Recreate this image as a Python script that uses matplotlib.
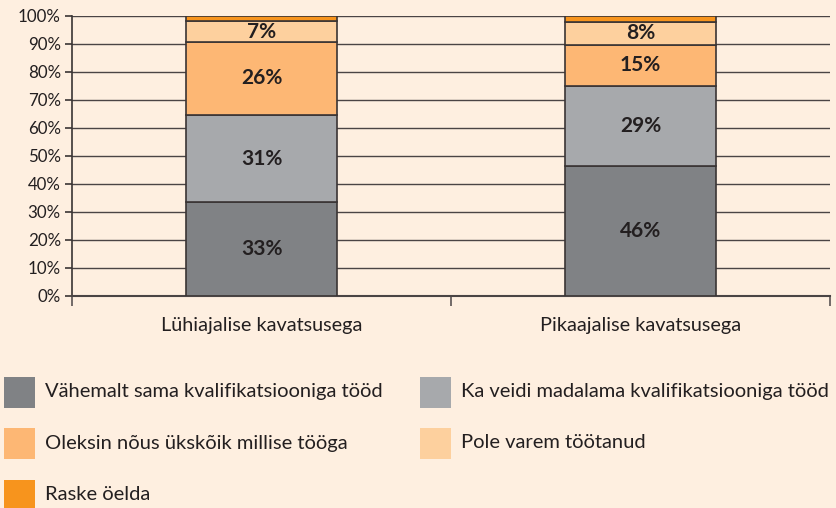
import matplotlib
matplotlib.use("Agg")
import matplotlib.pyplot as plt
from matplotlib.patches import Rectangle
import numpy as np

plt.rcParams['font.family'] = ['Lato', 'DejaVu Sans']

categories = ["Lühiajalise kavatsusega", "Pikaajalise kavatsusega"]
series = [
    "Vähemalt sama kvalifikatsiooniga tööd",
    "Ka veidi madalama kvalifikatsiooniga tööd",
    "Oleksin nõus ükskõik millise tööga",
    "Pole varem töötanud",
    "Raske öelda",
]
values = [
    [33.4, 46.4],
    [31.4, 28.6],
    [25.9, 14.8],
    [7.4, 8.0],
    [1.9, 2.2],
]
labels = [
    ["33%", "46%"],
    ["31%", "29%"],
    ["26%", "15%"],
    ["7%", "8%"],
    ["", ""],
]
colors = ["#808285", "#a7a9ac", "#fdb774", "#fdd09e", "#f7941d"]
bg = "#feefe0"
edge = "#3a3434"

fig = plt.figure(figsize=(8.37, 5.08), dpi=100, facecolor=bg)
ax = fig.add_axes([72 / 837, 1 - 296 / 508, (830 - 72) / 837, (296 - 16) / 508])
ax.set_facecolor(bg)

x = np.arange(len(categories))
bottom = np.zeros(len(categories))
for vals, labs, col in zip(values, labels, colors):
    vals = np.array(vals)
    ax.bar(x, vals, 0.4, bottom=bottom, color=col, edgecolor=edge,
           linewidth=1.2, zorder=3)
    for xi, b, v, t in zip(x, bottom, vals, labs):
        if t:
            ax.text(xi, b + v / 2, t, ha='center', va='center',
                    fontsize=15, fontweight='bold', color='#231f20', zorder=4)
    bottom += vals

ax.set_xlim(-0.5, 1.5)
ax.set_ylim(0, 100)
ax.set_yticks(np.arange(0, 101, 10))
ax.set_yticklabels([f"{v}%" for v in range(0, 101, 10)], fontsize=12.2, color='#231f20')
ax.yaxis.grid(True, color='#4a4444', linewidth=1, zorder=0)
ax.set_xticks([-0.5, 0.5, 1.5])
ax.set_xticklabels([])
ax.set_xticks(x, minor=True)
ax.set_xticklabels(categories, minor=True, fontsize=14.3, color='#231f20')
ax.tick_params(axis='x', which='minor', length=0, pad=15)
ax.tick_params(axis='x', which='major', length=7, width=1.2, color='#5a5454')
ax.tick_params(axis='y', length=5, width=1.2, color='#3a3434', pad=3)
for s in ['top', 'right']:
    ax.spines[s].set_visible(False)
ax.spines['left'].set_color('#3a3434')
ax.spines['bottom'].set_color('#4a4444')
ax.spines['left'].set_linewidth(1.2)
ax.spines['bottom'].set_linewidth(1.5)

# legend drawn by hand in figure pixels
W, H = 837, 508
positions = [(4, 377), (420, 377), (4, 428), (420, 428), (4, 480)]
for (px, py), name, col in zip(positions, series, colors):
    fig.add_artist(Rectangle((px / W, 1 - (py + 31) / H), 31 / W, 31 / H,
                             transform=fig.transFigure, facecolor=col,
                             edgecolor='none'))
    fig.text((px + 41) / W, 1 - (py + 15) / H, name, ha='left', va='center',
             fontsize=14.5, color='#231f20')

fig.savefig("out.png", dpi=100, facecolor=bg)
